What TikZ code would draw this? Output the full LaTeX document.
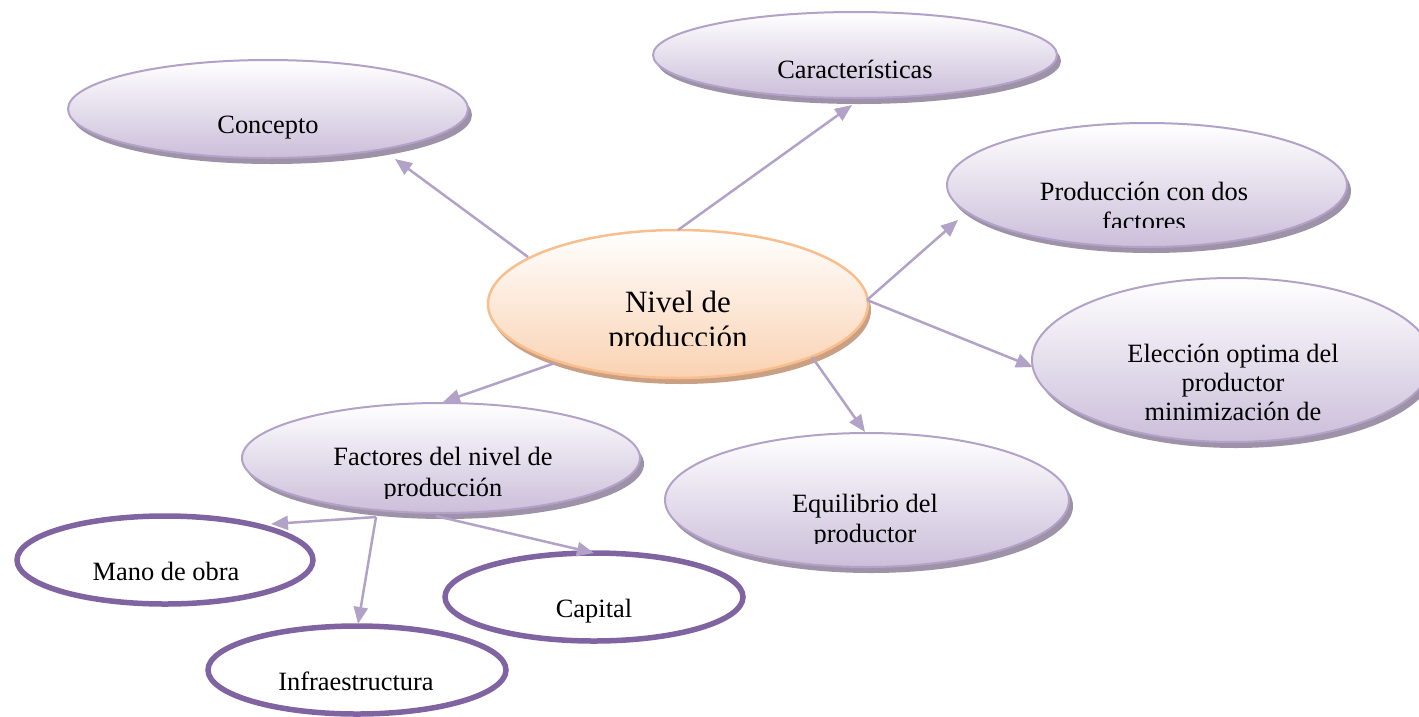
\documentclass[tikz,border=0pt]{standalone}
\usepackage{fontspec}
\setmainfont{Liberation Serif}
\usetikzlibrary{shapes.geometric,arrows.meta,shadows,calc}
\definecolor{lavline}{HTML}{B3A2C7}
\definecolor{lavfill}{HTML}{CBBEDA}
\definecolor{lavshadow}{HTML}{9D92A8}
\definecolor{orline}{HTML}{F9BE8D}
\definecolor{orfill}{HTML}{FAD2B2}
\definecolor{orshadow}{HTML}{C9A083}
\definecolor{darkpurple}{HTML}{8064A2}
\begin{document}
\begin{tikzpicture}[x=1pt,y=-1pt,
  bubble/.style={ellipse, draw=lavline, line width=2pt, top color=white, bottom color=lavfill,
    general shadow={fill=lavshadow, shadow xshift=4pt, shadow yshift=-6pt}, inner sep=0pt},
  hubstyle/.style={ellipse, draw=orline, line width=2.5pt, top color=white, bottom color=orfill,
    general shadow={fill=orshadow, shadow xshift=3pt, shadow yshift=-6pt}, inner sep=0pt},
  ring/.style={ellipse, draw=darkpurple, line width=5.5pt, fill=white, inner sep=0pt},
  txt/.style={anchor=base, align=center, inner sep=0pt, font=\fontsize{26.4}{30}\selectfont},
  conn/.style={draw=lavline, line width=2.5pt, -{Triangle[length=17pt,width=14pt]}}
]
\useasboundingbox (0,0) rectangle (1419,716);

% ellipses
\node[bubble, minimum width=400pt, minimum height=98pt] (concept) at (268,109) {};
\node[bubble, minimum width=404pt, minimum height=86pt] (caract) at (855,55) {};
\node[bubble, minimum width=400pt, minimum height=124pt] (prod) at (1147,185) {};
\node[bubble, minimum width=400pt, minimum height=164pt] (elec) at (1232,360) {};
\node[bubble, minimum width=398pt, minimum height=110pt] (fact) at (441,458) {};
\node[bubble, minimum width=404pt, minimum height=134pt] (equil) at (867,500) {};
\node[hubstyle, minimum width=380pt, minimum height=148pt] (hub) at (678,304) {};
\node[ring, minimum width=296pt, minimum height=88pt] (mano) at (165,560) {};
\node[ring, minimum width=298pt, minimum height=88pt] (infra) at (357,670) {};
\node[ring, minimum width=298pt, minimum height=88pt] (capital) at (594,597) {};

% connectors
\draw[conn] ($(hub.center)+(-150,-47)$) -- ($(concept.center)+(127,50)$);
\draw[conn] ($(hub.center)+(0,-74)$) -- ($(caract.center)+(-3,50)$);
\draw[conn] ($(hub.center)+(189,-4)$) -- ($(prod.center)+(-189,35)$);
\draw[conn] ($(hub.center)+(189,-4)$) -- ($(elec.center)+(-199,7)$);
\draw[conn] ($(hub.center)+(134,53)$) -- ($(equil.center)+(-2,-68)$);
\draw[conn] ($(hub.center)+(-123,59)$) -- ($(fact.center)+(2,-56)$);
\draw[conn] ($(fact.center)+(-65,59)$) -- ($(mano.center)+(106,-36)$);
\draw[conn] ($(fact.center)+(-65,59)$) -- ($(infra.center)+(1,-46)$);
\draw[conn] ($(fact.center)+(-5,58)$) -- ($(capital.center)+(0,-44)$);

% texts (multi-line nodes are placed at the baseline of their last line)
\node[txt] (tconcept) at (268,133) {Concepto};
\begin{scope}
  \clip (650,0) rectangle (1060,78);
  \node[txt] (tcaract) at (855,78) {Características};
\end{scope}
\begin{scope}
  \clip (950,120) rectangle (1350,227);
  \node[txt] (tprod) at (1144,230) {Producción con dos\\factores};
\end{scope}
\begin{scope}
  \clip (490,230) rectangle (870,345);
  \node[txt, font=\fontsize{31}{35}\selectfont] (thub) at (678,347) {Nivel de\\producción};
\end{scope}
\begin{scope}
  \clip (1035,280) rectangle (1419,422);
  \node[txt, font=\fontsize{26.4}{29}\selectfont] (telec) at (1233,420) {Elección optima del\\productor\\minimización de};
\end{scope}
\begin{scope}
  \clip (245,405) rectangle (640,498);
  \node[txt, font=\fontsize{26.4}{31}\selectfont] (tfact) at (443,496) {Factores del nivel de\\producción};
\end{scope}
\begin{scope}
  \clip (665,435) rectangle (1070,543);
  \node[txt] (tequil) at (865,542) {Equilibrio del\\productor};
\end{scope}
\node[txt] (tmano) at (166,580) {Mano de obra};
\node[txt] (tinfra) at (356,690) {Infraestructura};
\node[txt] (tcapital) at (594,617) {Capital};
\end{tikzpicture}
\end{document}
